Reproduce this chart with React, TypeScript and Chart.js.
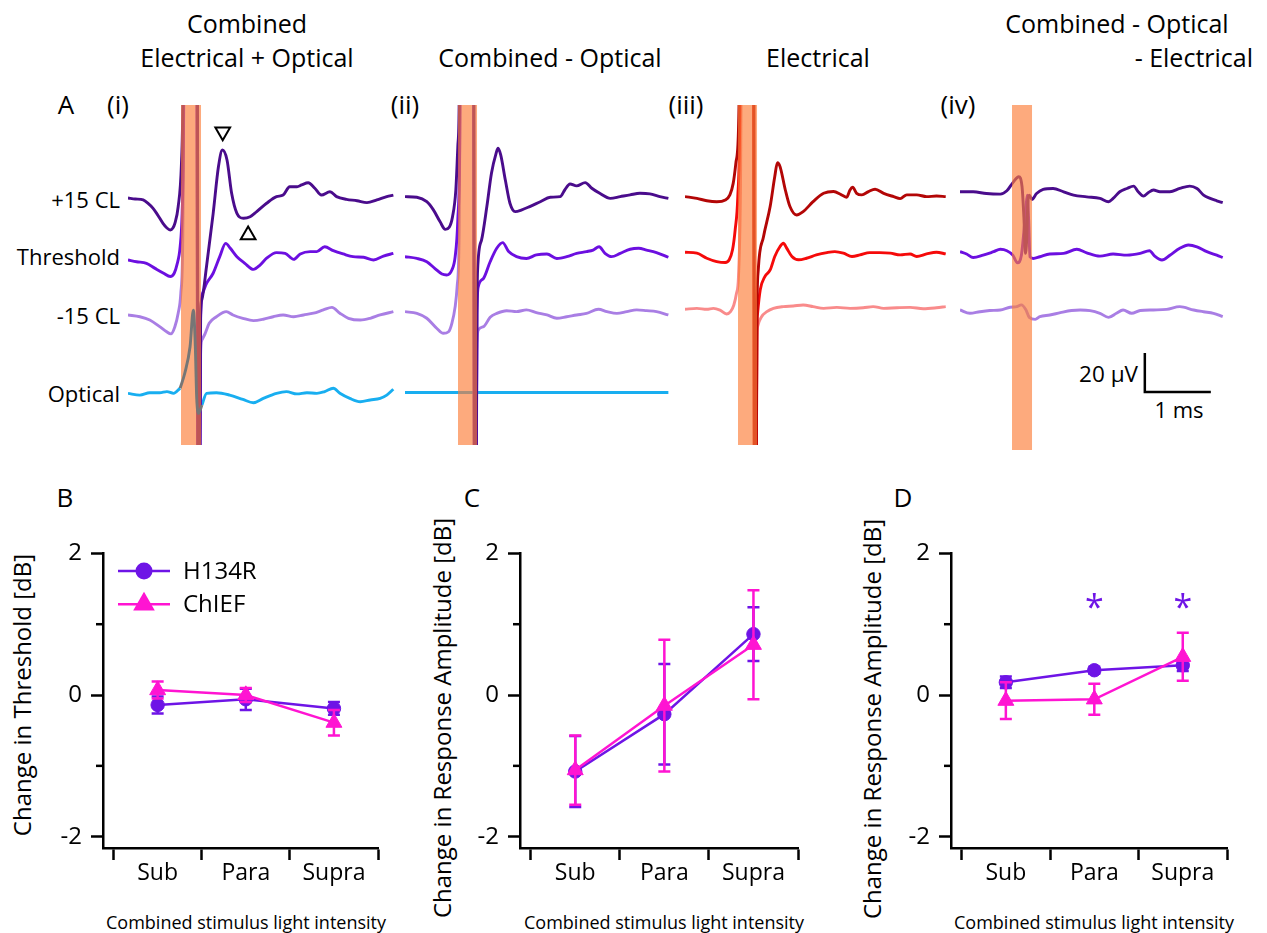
import React, { useEffect, useRef } from 'react';
import { Chart, registerables } from 'chart.js';

Chart.register(...registerables);

const FONT = '"Open Sans", Lato, sans-serif';
type Pt = [number, number];

// ================= Panel A: evoked traces, [time in ms, amplitude in µV relative to own baseline]
// (i) Combined Electrical + Optical
const I_PLUS15: Pt[] = [[0,0],[.11,-.5],[.23,-1],[.30,-2.6],[.38,-5.3],[.45,-8.7],[.53,-13],[.59,-15.4],[.64,-16.4],[.68,-15.4],[.71,-13],[.76,-4.5],[.81,17.8],[.83,47.7],[.85,150],[.95,260],[1.04,260],[1.07,-250],[1.10,-60],[1.12,-52],[1.19,-35],[1.29,-8],[1.37,16],[1.43,24.6],[1.50,19.5],[1.57,2.4],[1.65,-7.9],[1.75,-10.4],[1.85,-9.6],[1.95,-7],[2.10,-2.7],[2.25,.7],[2.35,1.5],[2.45,5.8],[2.56,5.8],[2.63,6.7],[2.73,7.8],[2.83,5],[2.93,1.5],[3.06,3.2],[3.16,.7],[3.31,-.7],[3.47,-1.4],[3.62,-2.4],[3.77,-1],[3.92,.7],[4.02,1.5]];
const I_THRESH: Pt[] = [[0,0],[.13,-.9],[.28,-1.7],[.41,-4.3],[.54,-6.8],[.64,-8.5],[.70,-6.8],[.74,-2.6],[.79,6.8],[.82,23.9],[.84,60],[.87,250],[1.03,250],[1.07,-250],[1.10,-30],[1.13,-17.1],[1.19,-12],[1.29,-6.8],[1.39,1.7],[1.48,8.5],[1.55,6],[1.65,1.7],[1.77,-1.7],[1.90,-4.8],[2.0,-2.6],[2.10,.9],[2.25,3.8],[2.38,3.4],[2.51,.3],[2.61,3.1],[2.76,4.3],[2.86,4.3],[2.98,6.8],[3.11,4.8],[3.26,3.1],[3.41,1.7],[3.57,1.4],[3.72,0],[3.87,2],[4.02,3.4]];
const I_MINUS15: Pt[] = [[0,0],[.18,-.9],[.33,-2.6],[.48,-6],[.58,-8.5],[.65,-9.7],[.71,-6],[.76,.9],[.80,11.1],[.83,40],[.86,200],[1.03,200],[1.07,-200],[1.10,-20],[1.12,-12.8],[1.17,-9.4],[1.23,-4.3],[1.34,-.9],[1.49,1.7],[1.59,0],[1.74,-1.7],[1.90,-2.9],[2.05,-2.2],[2.20,-.9],[2.35,0],[2.51,-.9],[2.66,0],[2.81,.9],[2.96,2.6],[3.09,3.9],[3.21,.9],[3.34,-1.7],[3.52,-2.6],[3.67,-1.7],[3.82,0],[4.02,1.7]];
const I_OPT_PRE: Pt[] = [[0,0],[.18,-.9],[.33,.3],[.48,.3],[.59,.9],[.69,0],[.79,2.6]];
const I_OPT_ARTIFACT: Pt[] = [[.79,2.6],[.86,10.3],[.94,23.9],[.99,42.7],[1.02,23.9],[1.04,-1.7],[1.07,-10.3],[1.12,-6]];
const I_OPT_POST: Pt[] = [[1.12,-6],[1.19,0],[1.34,.3],[1.54,-.9],[1.74,-3.1],[1.90,-4.8],[2.05,-2.6],[2.25,0],[2.40,.9],[2.56,-.3],[2.71,.3],[2.86,0],[2.98,.9],[3.11,2.6],[3.21,0],[3.36,-2.6],[3.52,-4.3],[3.67,-3.4],[3.82,-2.6],[3.92,-.9],[4.02,2.1]];
// (ii) Combined - Optical
const II_PLUS15: Pt[] = [[0,0],[.18,-.3],[.33,-2.6],[.43,-6.8],[.53,-12.8],[.61,-16.8],[.67,-15.7],[.72,-10.3],[.77,3.4],[.80,25.6],[.82,46],[.84,150],[.87,260],[1.03,260],[1.06,-250],[1.09,-60],[1.10,-37.6],[1.16,-22.2],[1.24,-5.1],[1.31,12],[1.38,22.2],[1.41,24.8],[1.45,21.4],[1.52,8.5],[1.59,-3.4],[1.67,-7.7],[1.77,-6.8],[1.89,-5.1],[2.05,-2.6],[2.20,-.3],[2.35,0],[2.42,3.4],[2.50,6.5],[2.60,5.5],[2.73,7.2],[2.83,4.3],[2.95,1.7],[3.11,-.9],[3.26,0],[3.41,.9],[3.56,1.7],[3.71,1.4],[3.86,0],[3.99,-.9]];
const II_THRESH: Pt[] = [[0,0],[.18,-.9],[.33,-2.6],[.45,-6],[.56,-8.9],[.63,-9.4],[.71,-6.8],[.76,0],[.80,18.8],[.83,60],[.86,250],[1.03,250],[1.06,-250],[1.09,-30],[1.11,-15.4],[1.19,-11.1],[1.29,-2.6],[1.39,4.3],[1.48,7.2],[1.57,2.6],[1.69,0],[1.84,-.9],[1.99,.9],[2.15,1.4],[2.30,-.9],[2.45,0],[2.60,1.7],[2.75,2.6],[2.85,3.4],[2.94,5.1],[3.03,1.7],[3.13,0],[3.26,1.7],[3.41,3.8],[3.54,4.3],[3.66,3.4],[3.81,2.1],[3.99,-.3]];
const II_MINUS15: Pt[] = [[0,0],[.18,-.9],[.33,-3.4],[.48,-8.5],[.58,-11.1],[.66,-10.3],[.71,-6],[.76,2.6],[.79,12.8],[.82,40],[.85,200],[1.03,200],[1.06,-200],[1.09,-20],[1.11,-9.4],[1.19,-7.7],[1.29,-2.9],[1.39,-.9],[1.54,.5],[1.69,0],[1.84,.9],[1.99,-.5],[2.15,-1.7],[2.30,-3.4],[2.45,-2.6],[2.60,-1.7],[2.75,-.9],[2.93,1.2],[3.06,0],[3.21,-.9],[3.36,0],[3.51,.9],[3.66,.5],[3.81,0],[3.99,-1.7]];
const II_OPT: Pt[] = [[0,0],[3.99,0]];
// (iii) Electrical
const III_PLUS15: Pt[] = [[0,0],[.18,-.9],[.33,-2.1],[.48,-2.6],[.61,-1.7],[.68,.9],[.73,6.8],[.77,17.1],[.81,34.2],[.83,80],[.86,260],[1.03,260],[1.06,-250],[1.09,-60],[1.11,-37.6],[1.19,-20.5],[1.29,-5.1],[1.36,10.3],[1.40,17.4],[1.44,15.4],[1.52,3.4],[1.59,-5.1],[1.69,-9.4],[1.79,-7.7],[1.94,-2.6],[2.10,1.7],[2.25,2.6],[2.37,.9],[2.45,-.3],[2.50,3.4],[2.54,4.8],[2.60,1.7],[2.68,.9],[2.78,2.6],[2.88,3.8],[3.01,1.7],[3.16,0],[3.26,-1],[3.36,.9],[3.51,.9],[3.66,0],[3.81,.3],[3.95,0]];
const III_THRESH: Pt[] = [[0,0],[.18,-.5],[.33,-3.1],[.48,-4.8],[.61,-5.3],[.67,-3.9],[.72,1.2],[.76,11.5],[.80,28.5],[.83,70],[.86,250],[1.03,250],[1.06,-250],[1.09,-40],[1.10,-31.3],[1.14,-19.3],[1.21,-12.5],[1.29,-9.1],[1.36,-2.2],[1.44,2.9],[1.49,4.6],[1.54,2.1],[1.62,-2.2],[1.72,-3.9],[1.84,-3.1],[1.99,-1.4],[2.15,-.2],[2.27,.3],[2.40,-.5],[2.53,-2.2],[2.65,-1.4],[2.80,-.2],[2.95,-.2],[3.11,-.5],[3.26,-1.4],[3.41,-.9],[3.51,-2.2],[3.66,-.9],[3.81,0],[3.95,-.9]];
const III_MINUS15: Pt[] = [[0,-.5],[.18,0],[.33,-.5],[.43,0],[.53,-.9],[.63,-2.9],[.69,-1.7],[.74,1.7],[.78,7.7],[.81,16.2],[.84,60],[.87,200],[1.03,200],[1.06,-200],[1.09,-15],[1.10,-9.4],[1.16,-4.3],[1.24,-1.7],[1.34,0],[1.49,.9],[1.64,1.2],[1.79,1.7],[1.94,.9],[2.10,0],[2.30,.5],[2.50,0],[2.70,.3],[2.85,.9],[3.01,0],[3.21,.3],[3.41,.5],[3.61,-.2],[3.81,.3],[3.95,.9]];
// (iv) Combined - Optical - Electrical
const IV_PLUS15: Pt[] = [[0,0],[.20,0],[.40,-.9],[.61,-1.2],[.71,.5],[.81,5.1],[.89,7.7],[.94,2.6],[.97,-14.5],[.99,-31.6],[1.01,-24.8],[1.03,-4.3],[1.05,-1.7],[1.09,-3.9],[1.16,-.9],[1.26,1.2],[1.41,1.7],[1.57,0],[1.72,-1.7],[1.92,-2.6],[2.12,-3.4],[2.25,-5.1],[2.32,-3.4],[2.42,0],[2.53,1.7],[2.63,2.9],[2.70,0],[2.78,-2.2],[2.85,-.5],[2.93,.9],[3.03,0],[3.18,0],[3.33,1.7],[3.48,2.9],[3.59,1.7],[3.69,-1.7],[3.79,-3.4],[3.89,-4.6],[3.98,-5.6]];
const IV_THRESH: Pt[] = [[0,.9],[.10,-.3],[.20,-2.1],[.35,-.9],[.51,.9],[.61,2.1],[.71,1.4],[.80,-.9],[.87,-4.8],[.93,-.9],[.97,12],[1.00,23.9],[1.02,29.9],[1.04,17.1],[1.06,-1.7],[1.11,-2.6],[1.21,-1.7],[1.36,-.3],[1.57,0],[1.77,2.1],[1.92,.3],[2.12,-1.4],[2.32,-.3],[2.53,-.9],[2.73,0],[2.87,1.4],[2.95,-1.4],[3.06,-3.4],[3.18,-.9],[3.33,2.6],[3.46,4.3],[3.59,3.4],[3.74,.9],[3.89,-.9],[3.98,-2.1]];
const IV_MINUS15: Pt[] = [[0,0],[.15,-1.7],[.30,-.9],[.45,-.3],[.61,0],[.76,1.4],[.86,1.7],[.93,2.6],[1.00,0],[1.05,-3.8],[1.14,-4.8],[1.21,-3.4],[1.36,-2.6],[1.52,-1.4],[1.69,-.3],[1.82,0],[1.97,-.3],[2.12,-1.7],[2.25,-3.8],[2.37,-1.7],[2.47,0],[2.60,-1.7],[2.73,-.3],[2.93,0],[3.13,.3],[3.33,1.7],[3.54,0],[3.69,-.9],[3.84,-1.7],[3.98,-3.4]];

// vertical placement of each trace (µV) in the stacked display
const OFFSETS_I = [0, -31.8, -60, -100.2];
const OFFSETS_II = [0.7, -30.1, -58.3, -99.8];
const OFFSETS_III = [0.7, -27.8, -56.6];
const OFFSETS_IV = [3.2, -28.4, -57.4];

// stimulus windows (ms)
const STIM_I: Pt = [0.803, 1.106];
const STIM_II: Pt = [0.803, 1.091];
const STIM_III: Pt = [0.803, 1.091];
const STIM_IV: Pt = [0.788, 1.091];

// peak / trough markers in (i), [ms, µV]
const I_PEAK_MARKERS: Pt[] = [[1.435, 34], [1.82, -19]];
const I_PEAK_ROT = [180, 0];

// scale bar
const SCALE_UV = 20;
const SCALE_MS = 1;
const SCALE_ORIGIN: Pt = [2.8, -99.5];

// ================= Panels B–D
const CATEGORIES = ['Sub', 'Para', 'Supra'];
const B_H134R = [-0.14, -0.06, -0.19];
const B_H134R_ERR = [0.12, 0.15, 0.09];
const B_CHIEF = [0.07, 0.0, -0.39];
const B_CHIEF_ERR = [0.12, 0.1, 0.18];
const C_H134R = [-1.08, -0.27, 0.86];
const C_H134R_ERR = [0.5, 0.71, 0.38];
const C_CHIEF = [-1.06, -0.15, 0.71];
const C_CHIEF_ERR = [0.49, 0.93, 0.77];
const D_H134R = [0.18, 0.35, 0.42];
const D_H134R_ERR = [0.08, 0.05, 0.08];
const D_CHIEF = [-0.08, -0.06, 0.54];
const D_CHIEF_ERR = [0.26, 0.22, 0.34];
const D_SIG = [false, true, true];
const SIG_Y = 1.32;
const Y_TICKS = [-2, -1, 0, 1, 2];

const H134R_COLOR = '#6e14e6';
const CHIEF_COLOR = '#ff14d2';

const C_DARK = '#4a0c8c';
const C_MID = '#6c0fe0';
const C_LIGHT = '#a97ee4';
const C_OPT = '#18aef0';
const R_DARK = '#b30606';
const R_MID = '#f50a0a';
const R_LIGHT = '#f98b8b';

const A_TOP = 105;
const A_WIDTH = 267;
const A_XMAX = 4.045;
const A_YMAX = 47.7;

interface Trace { pts: Pt[]; color: string; offset: number; top?: boolean; width?: number }

function TraceChart(props: { left: number; height: number; yMin: number; traces: Trace[]; stim: Pt; markers?: boolean; scaleBar?: boolean }) {
  const ref = useRef<HTMLCanvasElement>(null);
  useEffect(() => {
    const { traces, stim } = props;
    const datasets: any[] = traces.map((tr) => ({
      data: tr.pts.map(([t, v]) => ({ x: t, y: v + tr.offset })),
      borderColor: tr.color,
      borderWidth: tr.width ?? 2.9,
      pointRadius: 0,
      cubicInterpolationMode: 'monotone',
      order: tr.top ? 0 : 1,
    }));
    const barBefore = traces.findIndex((t) => t.top);
    if (props.markers) {
      datasets.push({
        data: I_PEAK_MARKERS.map(([t, v]) => ({ x: t, y: v })),
        showLine: false,
        pointStyle: 'triangle',
        pointRotation: I_PEAK_ROT,
        pointRadius: 8.5,
        pointBorderWidth: 2,
        pointBackgroundColor: '#fff',
        pointBorderColor: '#000',
        order: -1,
      });
    }
    if (props.scaleBar) {
      const [sx, sy] = SCALE_ORIGIN;
      datasets.push({
        data: [{ x: sx, y: sy + SCALE_UV }, { x: sx, y: sy }, { x: sx + SCALE_MS, y: sy }],
        borderColor: '#000',
        borderWidth: 2.5,
        pointRadius: 0,
        tension: 0,
        order: -1,
      });
    }
    const drawBar = (chart: any) => {
      const { ctx, scales, chartArea } = chart;
      const x0 = scales.x.getPixelForValue(stim[0]);
      const x1 = scales.x.getPixelForValue(stim[1]);
      ctx.save();
      ctx.fillStyle = 'rgba(252,124,55,0.65)';
      ctx.fillRect(x0, chartArea.top, x1 - x0, chartArea.bottom - chartArea.top);
      ctx.restore();
    };
    const barPlugin = {
      id: 'stimBar',
      beforeDatasetDraw(chart: any, args: any) {
        if (barBefore >= 0 && args.index === barBefore) drawBar(chart);
      },
      afterDatasetsDraw(chart: any) {
        if (barBefore < 0) drawBar(chart);
      },
    };
    const chart = new Chart(ref.current!, {
      type: 'line',
      data: { datasets },
      options: {
        animation: false,
        responsive: false,
        events: [],
        layout: { padding: 0, autoPadding: false },
        plugins: { legend: { display: false }, tooltip: { enabled: false } },
        scales: {
          x: { type: 'linear', display: false, min: 0, max: A_XMAX },
          y: { type: 'linear', display: false, min: props.yMin, max: A_YMAX },
        },
      } as any,
      plugins: [barPlugin as any],
    });
    return () => chart.destroy();
  }, []);
  return (
    <canvas ref={ref} width={A_WIDTH} height={props.height}
      style={{ position: 'absolute', left: props.left, top: A_TOP, width: A_WIDTH, height: props.height }} />
  );
}

const S_TOP = 530;
const S_HEIGHT = 403;
const S_PAD_TOP = 22;
const S_AREA_H = 296;
const S_YAXIS_W = 100;
const S_RIGHT_PAD = 20;

function StatChart(props: { L: number; R: number; h134r: number[]; h134rErr: number[]; chief: number[]; chiefErr: number[]; legend?: boolean; sig?: boolean[] }) {
  const ref = useRef<HTMLCanvasElement>(null);
  const W = props.R - props.L + S_YAXIS_W + S_RIGHT_PAD;
  useEffect(() => {
    const series = [
      { label: 'H134R', vals: props.h134r, errs: props.h134rErr, color: H134R_COLOR, style: 'circle', r: 6.7, lr: 8.5, order: 1 },
      { label: 'ChIEF', vals: props.chief, errs: props.chiefErr, color: CHIEF_COLOR, style: 'triangle', r: 9.2, lr: 12.5, order: 0 },
    ];
    const datasets: any[] = series.map((s) => ({
      label: s.label,
      data: s.vals.map((v, i) => ({ x: i + 1, y: v })),
      borderColor: s.color,
      backgroundColor: s.color,
      borderWidth: 2.5,
      pointStyle: s.style,
      pointRadius: s.r,
      pointBorderWidth: 1,
      tension: 0,
      order: s.order,
      clip: false,
    }));
    const marker = (ctx: CanvasRenderingContext2D, style: string, cx: number, cy: number, r: number, color: string) => {
      ctx.fillStyle = color;
      ctx.beginPath();
      if (style === 'circle') {
        ctx.arc(cx, cy, r, 0, Math.PI * 2);
      } else {
        ctx.moveTo(cx, cy - r);
        ctx.lineTo(cx + r * Math.sin((2 * Math.PI) / 3), cy + r / 2);
        ctx.lineTo(cx - r * Math.sin((2 * Math.PI) / 3), cy + r / 2);
        ctx.closePath();
      }
      ctx.fill();
    };
    const plugin = {
      id: 'statExtras',
      beforeDatasetDraw(chart: any, args: any) {
        const s = series[args.index];
        const { ctx, scales } = chart;
        ctx.save();
        ctx.strokeStyle = s.color;
        ctx.lineWidth = 2.5;
        s.vals.forEach((v, i) => {
          const x = scales.x.getPixelForValue(i + 1);
          const y1 = scales.y.getPixelForValue(v + s.errs[i]);
          const y2 = scales.y.getPixelForValue(v - s.errs[i]);
          ctx.beginPath();
          ctx.moveTo(x, y1); ctx.lineTo(x, y2);
          ctx.moveTo(x - 6, y1); ctx.lineTo(x + 6, y1);
          ctx.moveTo(x - 6, y2); ctx.lineTo(x + 6, y2);
          ctx.stroke();
        });
        ctx.restore();
      },
      afterDraw(chart: any) {
        const { ctx, scales, chartArea } = chart;
        ctx.save();
        ctx.strokeStyle = '#000';
        ctx.lineWidth = 2.5;
        [-1, 1].forEach((v) => {
          const y = scales.y.getPixelForValue(v);
          ctx.beginPath();
          ctx.moveTo(chartArea.left, y);
          ctx.lineTo(chartArea.left - 7, y);
          ctx.stroke();
        });
        if (props.legend) {
          series.forEach((s, k) => {
            const y = chartArea.top + 17.5 + k * 33.4;
            ctx.strokeStyle = s.color;
            ctx.lineWidth = 2.5;
            ctx.beginPath();
            ctx.moveTo(chartArea.left + 15, y);
            ctx.lineTo(chartArea.left + 67, y);
            ctx.stroke();
            marker(ctx, s.style, chartArea.left + 41, y, s.lr, s.color);
            ctx.fillStyle = '#000';
            ctx.font = `24px ${FONT}`;
            ctx.textAlign = 'left';
            ctx.textBaseline = 'middle';
            ctx.fillText(s.label, chartArea.left + 80, y + 1);
          });
        }
        if (props.sig) {
          ctx.fillStyle = H134R_COLOR;
          ctx.font = `34px ${FONT}`;
          ctx.textAlign = 'center';
          ctx.textBaseline = 'middle';
          props.sig.forEach((on, i) => {
            if (on) ctx.fillText('*', scales.x.getPixelForValue(i + 1), scales.y.getPixelForValue(SIG_Y) + 8);
          });
        }
        ctx.restore();
      },
    };
    const chart = new Chart(ref.current!, {
      type: 'line',
      data: { datasets },
      options: {
        animation: false,
        responsive: false,
        events: [],
        layout: { padding: { top: S_PAD_TOP, right: S_RIGHT_PAD, left: 0, bottom: 0 }, autoPadding: false },
        plugins: { legend: { display: false }, tooltip: { enabled: false } },
        scales: {
          x: {
            type: 'linear',
            min: 0.38,
            max: 3.5,
            afterBuildTicks: (s: any) => { s.ticks = [0.5, 1, 1.5, 2, 2.5, 3, 3.5].map((value) => ({ value })); },
            afterFit: (s: any) => { s.height = S_HEIGHT - S_PAD_TOP - S_AREA_H; },
            ticks: {
              autoSkip: false,
              maxRotation: 0,
              padding: 0,
              color: '#000',
              font: { family: FONT, size: 23 },
              callback: (v: any) => (Number.isInteger(v) ? CATEGORIES[v - 1] : ''),
            },
            grid: {
              drawOnChartArea: false,
              drawTicks: true,
              tickLength: 12,
              tickWidth: 2.5,
              tickColor: (ctx: any) => (ctx.tick && Number.isInteger(ctx.tick.value) ? 'rgba(0,0,0,0)' : '#000'),
            },
            border: { display: true, color: '#000', width: 2.5 },
          },
          y: {
            type: 'linear',
            min: -2.16,
            max: 2,
            afterBuildTicks: (s: any) => { s.ticks = Y_TICKS.map((value) => ({ value })); },
            afterFit: (s: any) => { s.width = S_YAXIS_W; },
            ticks: {
              autoSkip: false,
              padding: 9,
              color: '#000',
              font: { family: FONT, size: 24 },
              callback: (v: any) => (v % 2 === 0 ? String(v) : ''),
            },
            grid: {
              drawOnChartArea: false,
              drawTicks: true,
              tickLength: 12,
              tickWidth: 2.5,
              tickColor: (ctx: any) => (ctx.tick && ctx.tick.value % 2 !== 0 ? 'rgba(0,0,0,0)' : '#000'),
            },
            border: { display: true, color: '#000', width: 2.5 },
          },
        },
      } as any,
      plugins: [plugin as any],
    });
    return () => chart.destroy();
  }, []);
  return (
    <canvas ref={ref} width={W} height={S_HEIGHT}
      style={{ position: 'absolute', left: props.L - S_YAXIS_W, top: S_TOP, width: W, height: S_HEIGHT }} />
  );
}

function Txt(props: { x: number; y: number; size: number; align?: 'left' | 'center' | 'right'; color?: string; rotate?: number; children: React.ReactNode }) {
  const { x, y, size, align = 'center', color = '#000', rotate } = props;
  const tx = align === 'center' ? '-50%' : align === 'right' ? '-100%' : '0';
  return (
    <div style={{
      position: 'absolute', left: x, top: y,
      transform: `translate(${tx}, -50%)${rotate ? ` rotate(${rotate}deg)` : ''}`,
      fontFamily: FONT, fontSize: size, lineHeight: 1, color, whiteSpace: 'nowrap',
    }}>{props.children}</div>
  );
}

export default function App() {
  return (
    <div style={{ position: 'absolute', left: 0, top: 0, width: 1267, height: 933, background: '#fff', overflow: 'hidden' }}>
      <Txt x={247} y={23} size={25}>Combined</Txt>
      <Txt x={247} y={57} size={25}>Electrical + Optical</Txt>
      <Txt x={550} y={57} size={25}>Combined - Optical</Txt>
      <Txt x={818} y={57} size={25}>Electrical</Txt>
      <Txt x={1117} y={23} size={25}>Combined - Optical</Txt>
      <Txt x={1253} y={57} size={25} align="right">- Electrical</Txt>
      <Txt x={66} y={104} size={26}>A</Txt>
      <Txt x={118} y={104} size={26}>(i)</Txt>
      <Txt x={405} y={104} size={26}>(ii)</Txt>
      <Txt x={686} y={104} size={26}>(iii)</Txt>
      <Txt x={958} y={104} size={26}>(iv)</Txt>
      <Txt x={120} y={199} size={22} align="right">+15 CL</Txt>
      <Txt x={120} y={256} size={22} align="right">Threshold</Txt>
      <Txt x={120} y={315} size={22} align="right">-15 CL</Txt>
      <Txt x={120} y={393} size={22} align="right">Optical</Txt>
      <Txt x={1138} y={374} size={22.5} align="right">20 µV</Txt>
      <Txt x={1179} y={409} size={22}>1 ms</Txt>

      <TraceChart left={128} height={340} yMin={-126.7} stim={STIM_I} markers traces={[
        { pts: I_PLUS15, color: C_DARK, offset: OFFSETS_I[0] },
        { pts: I_THRESH, color: C_MID, offset: OFFSETS_I[1] },
        { pts: I_MINUS15, color: C_LIGHT, offset: OFFSETS_I[2] },
        { pts: I_OPT_PRE, color: C_OPT, offset: OFFSETS_I[3] },
        { pts: I_OPT_POST, color: C_OPT, offset: OFFSETS_I[3] },
        { pts: I_OPT_ARTIFACT, color: '#767676', offset: OFFSETS_I[3], top: true },
      ]} />
      <TraceChart left={405} height={340} yMin={-126.7} stim={STIM_II} traces={[
        { pts: II_PLUS15, color: C_DARK, offset: OFFSETS_II[0] },
        { pts: II_THRESH, color: C_MID, offset: OFFSETS_II[1] },
        { pts: II_MINUS15, color: C_LIGHT, offset: OFFSETS_II[2] },
        { pts: II_OPT, color: C_OPT, offset: OFFSETS_II[3] },
      ]} />
      <TraceChart left={685} height={340} yMin={-126.7} stim={STIM_III} traces={[
        { pts: III_PLUS15, color: R_DARK, offset: OFFSETS_III[0] },
        { pts: III_THRESH, color: R_MID, offset: OFFSETS_III[1] },
        { pts: III_MINUS15, color: R_LIGHT, offset: OFFSETS_III[2] },
      ]} />
      <TraceChart left={960} height={345} yMin={-129.2} stim={STIM_IV} scaleBar traces={[
        { pts: IV_PLUS15, color: C_DARK, offset: OFFSETS_IV[0] },
        { pts: IV_THRESH, color: C_MID, offset: OFFSETS_IV[1] },
        { pts: IV_MINUS15, color: C_LIGHT, offset: OFFSETS_IV[2] },
      ]} />

      <Txt x={65} y={497} size={26}>B</Txt>
      <Txt x={472} y={497} size={26}>C</Txt>
      <Txt x={903} y={497} size={26}>D</Txt>
      <Txt x={22} y={695} size={24} rotate={-90}>Change in Threshold [dB]</Txt>
      <Txt x={442} y={718} size={24} rotate={-90}>Change in Response Amplitude [dB]</Txt>
      <Txt x={872} y={719} size={24} rotate={-90}>Change in Response Amplitude [dB]</Txt>
      <Txt x={246} y={922} size={18}>Combined stimulus light intensity</Txt>
      <Txt x={664} y={922} size={18}>Combined stimulus light intensity</Txt>
      <Txt x={1094} y={922} size={18}>Combined stimulus light intensity</Txt>

      <StatChart L={103} R={378} h134r={B_H134R} h134rErr={B_H134R_ERR} chief={B_CHIEF} chiefErr={B_CHIEF_ERR} legend />
      <StatChart L={520} R={798} h134r={C_H134R} h134rErr={C_H134R_ERR} chief={C_CHIEF} chiefErr={C_CHIEF_ERR} />
      <StatChart L={951} R={1227} h134r={D_H134R} h134rErr={D_H134R_ERR} chief={D_CHIEF} chiefErr={D_CHIEF_ERR} sig={D_SIG} />
    </div>
  );
}
